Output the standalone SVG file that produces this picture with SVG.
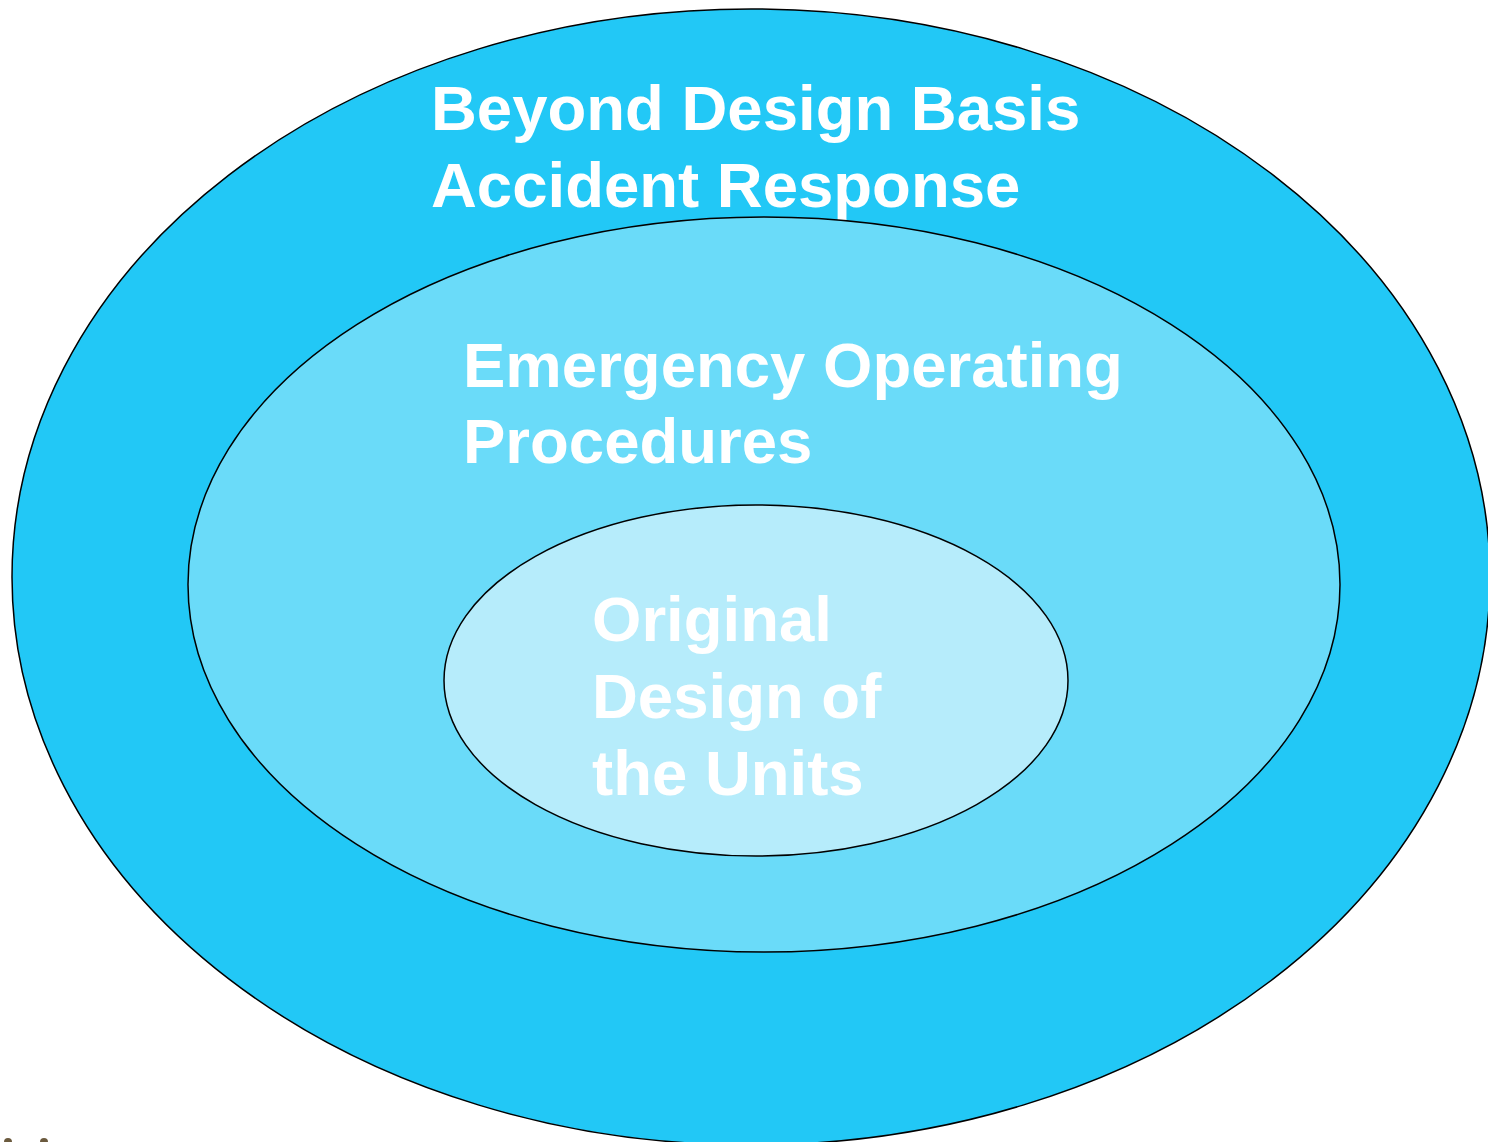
<svg xmlns="http://www.w3.org/2000/svg" width="1488" height="1142" viewBox="0 0 1488 1142">
<style>
.ring{stroke:#000;stroke-width:1.5}
.lbl{font-family:"Liberation Sans",Arial,sans-serif;font-weight:bold;font-size:63.5px;fill:#fff}
</style>
<rect width="1488" height="1142" fill="#fff"/>
<g id="outer">
<ellipse class="ring" cx="751" cy="577" rx="739" ry="568" fill="#22C8F6"/>
<text class="lbl" x="431" y="130">Beyond Design Basis</text>
<text class="lbl" x="431" y="207">Accident Response</text>
</g>
<g id="middle">
<ellipse class="ring" cx="764" cy="584.5" rx="576" ry="367.5" fill="#6ADBF9"/>
<text class="lbl" x="463" y="387">Emergency Operating</text>
<text class="lbl" x="463" y="463">Procedures</text>
</g>
<g id="inner">
<ellipse class="ring" cx="756" cy="680.5" rx="312" ry="175.5" fill="#B6ECFB"/>
<text class="lbl" x="592" y="641">Original</text>
<text class="lbl" x="592" y="718">Design of</text>
<text class="lbl" x="592" y="795">the Units</text>
</g>
<g id="connectors"></g>
<g fill="#6b5a3e">
<circle cx="8" cy="1142" r="4"/>
<circle cx="44" cy="1142" r="4"/>
</g>
</svg>
